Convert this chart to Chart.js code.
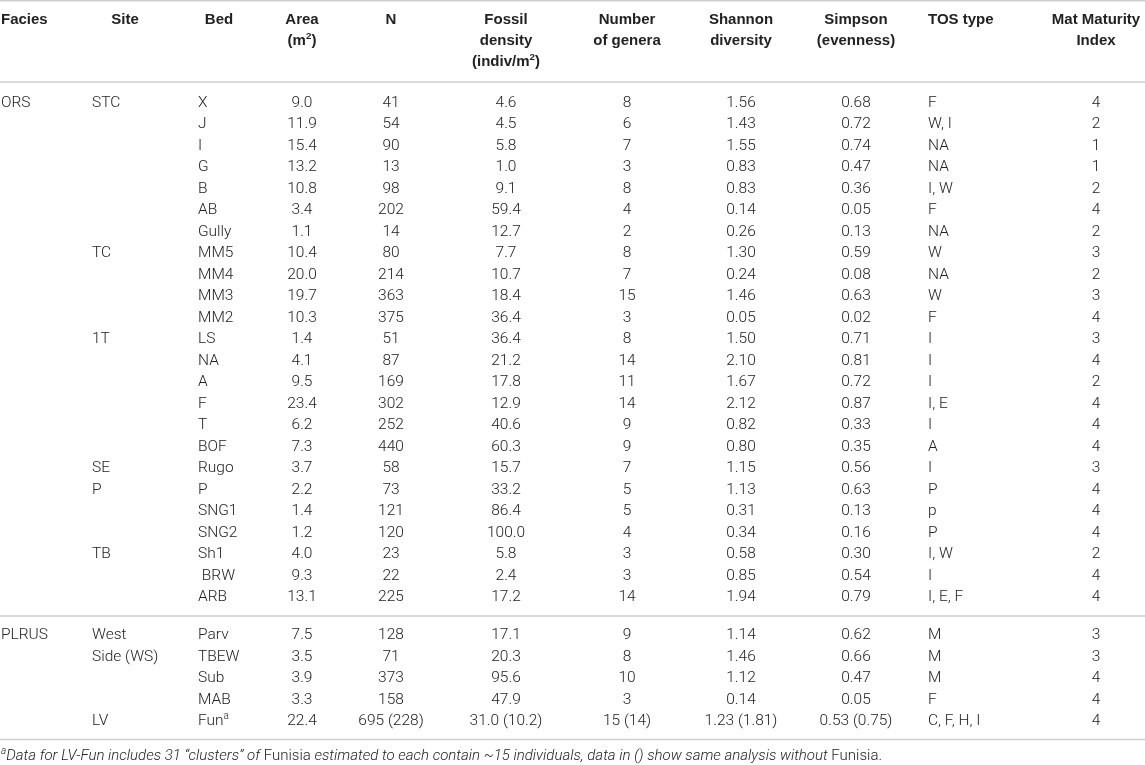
<!DOCTYPE html>
<html>
<head>
<meta charset="utf-8">
<script src="https://cdn.jsdelivr.net/npm/chart.js@4.4.1/dist/chart.umd.min.js"></script>
<style>
    html, body { margin: 0; padding: 0; background: #fff; }
    #wrap { width: 1145px; height: 765px; }
</style>
</head>
<body>
<div id="wrap"><canvas id="table" width="1145" height="765"></canvas></div>
<script>
// TABLE DATA (one array per column, "^" marks a superscript character)
const headers = [
    ["Facies"], ["Site"], ["Bed"], ["Area", "(m^2)"], ["N"],
    ["Fossil", "density", "(indiv/m^2)"], ["Number", "of genera"],
    ["Shannon", "diversity"], ["Simpson", "(evenness)"], ["TOS type"],
    ["Mat Maturity", "Index"]
];
const facies = ["ORS", "", "", "", "", "", "", "", "", "", "", "", "", "", "", "", "", "", "", "", "", "", "", "",
    "PLRUS", "", "", "", ""];
const sites = ["STC", "", "", "", "", "", "", "TC", "", "", "", "1T", "", "", "", "", "", "SE", "P", "", "", "TB", "", "",
    "West", "Side (WS)", "", "", "LV"];
const beds = ["X", "J", "I", "G", "B", "AB", "Gully", "MM5", "MM4", "MM3", "MM2", "LS", "NA", "A", "F", "T", "BOF",
    "Rugo", "P", "SNG1", "SNG2", "Sh1", " BRW", "ARB", "Parv", "TBEW", "Sub", "MAB", "Fun^a"];
const area = ["9.0", "11.9", "15.4", "13.2", "10.8", "3.4", "1.1", "10.4", "20.0", "19.7", "10.3", "1.4", "4.1", "9.5",
    "23.4", "6.2", "7.3", "3.7", "2.2", "1.4", "1.2", "4.0", "9.3", "13.1", "7.5", "3.5", "3.9", "3.3", "22.4"];
const counts = ["41", "54", "90", "13", "98", "202", "14", "80", "214", "363", "375", "51", "87", "169", "302", "252",
    "440", "58", "73", "121", "120", "23", "22", "225", "128", "71", "373", "158", "695 (228)"];
const density = ["4.6", "4.5", "5.8", "1.0", "9.1", "59.4", "12.7", "7.7", "10.7", "18.4", "36.4", "36.4", "21.2",
    "17.8", "12.9", "40.6", "60.3", "15.7", "33.2", "86.4", "100.0", "5.8", "2.4", "17.2", "17.1", "20.3", "95.6",
    "47.9", "31.0 (10.2)"];
const genera = ["8", "6", "7", "3", "8", "4", "2", "8", "7", "15", "3", "8", "14", "11", "14", "9", "9", "7", "5", "5",
    "4", "3", "3", "14", "9", "8", "10", "3", "15 (14)"];
const shannon = ["1.56", "1.43", "1.55", "0.83", "0.83", "0.14", "0.26", "1.30", "0.24", "1.46", "0.05", "1.50",
    "2.10", "1.67", "2.12", "0.82", "0.80", "1.15", "1.13", "0.31", "0.34", "0.58", "0.85", "1.94", "1.14", "1.46",
    "1.12", "0.14", "1.23 (1.81)"];
const simpson = ["0.68", "0.72", "0.74", "0.47", "0.36", "0.05", "0.13", "0.59", "0.08", "0.63", "0.02", "0.71",
    "0.81", "0.72", "0.87", "0.33", "0.35", "0.56", "0.63", "0.13", "0.16", "0.30", "0.54", "0.79", "0.62", "0.66",
    "0.47", "0.05", "0.53 (0.75)"];
const tosType = ["F", "W, I", "NA", "NA", "I, W", "F", "NA", "W", "NA", "W", "F", "I", "I", "I", "I, E", "I", "A", "I",
    "P", "p", "P", "I, W", "I", "I, E, F", "M", "M", "M", "F", "C, F, H, I"];
const maturity = ["4", "2", "1", "1", "2", "4", "2", "3", "2", "3", "4", "3", "4", "2", "4", "4", "4", "3", "4", "4",
    "4", "2", "4", "4", "3", "3", "4", "4", "4"];
const footnote = [
    { t: "a", sup: true, italic: true },
    { t: "Data for LV-Fun includes 31 \u201cclusters\u201d of ", italic: true },
    { t: "Funisia", italic: false },
    { t: " estimated to each contain ~15 individuals, data in () show same analysis without ", italic: true },
    { t: "Funisia.", italic: false }
];

const columns = [facies, sites, beds, area, counts, density, genera, shannon, simpson, tosType, maturity];
const orsRows = 24; // rows before the PLRUS block

// LAYOUT
const W = 1145, H = 765;
const TOP = 103, ROW_H = 21.5, GAP = 0.77;
const colX = [1, 92, 198, 302, 391, 506, 627, 741, 856, 928, 1096];
const colAlign = ["left", "left", "left", "center", "center", "center", "center", "center", "center", "left", "center"];
const headX = [1, 125, 219, 302, 391, 506, 627, 741, 856, 928, 1096];
const headAlign = ["left", "center", "center", "center", "center", "center", "center", "center", "center", "left", "center"];
const headY = [20, 41, 62];
const rules = [0.75, 82, 616, 739.5];
const FOOT_Y = 756;
const BODY_SIZE = 15.5, HEAD_SIZE = 15, FOOT_SIZE = 15;

const BODY_FONT = '"Roboto", "Liberation Sans", sans-serif';
const HEAD_FONT = '"Liberation Sans", Arial, sans-serif';
const textColor = "#222";

function rowPos(i) {
    return i < orsRows ? i : i + GAP;
}

// draw a string where "^c" is a raised small character
function richText(ctx, str, x, y, align, font, size) {
    const parts = [];
    for (let i = 0; i < str.length; i++) {
        if (str[i] === "^" && i + 1 < str.length) {
            parts.push({ t: str[i + 1], sup: true });
            i++;
        } else if (parts.length && !parts[parts.length - 1].sup) {
            parts[parts.length - 1].t += str[i];
        } else {
            parts.push({ t: str[i], sup: false });
        }
    }
    drawParts(ctx, parts, x, y, align, p => font(p.sup ? size * 0.65 : size));
}

function drawParts(ctx, parts, x, y, align, fontFor) {
    let total = 0;
    parts.forEach(p => { ctx.font = fontFor(p); p.w = ctx.measureText(p.t).width; total += p.w; });
    let cx = align === "center" ? x - total / 2 : align === "right" ? x - total : x;
    ctx.textAlign = "left";
    ctx.textBaseline = "middle";
    parts.forEach(p => {
        ctx.font = fontFor(p);
        ctx.fillText(p.t, cx, p.sup ? y - 5 : y);
        cx += p.w;
    });
}

const tablePlugin = {
    id: "tableText",
    afterDatasetsDraw(chart) {
        const ctx = chart.ctx;
        ctx.save();
        ctx.fillStyle = textColor;

        // rules
        ctx.strokeStyle = "#cfcfcf";
        ctx.lineWidth = 1.5;
        rules.forEach(y => {
            ctx.beginPath();
            ctx.moveTo(0, y);
            ctx.lineTo(W, y);
            ctx.stroke();
        });

        // column headers
        headers.forEach((lines, c) => {
            lines.forEach((line, k) => {
                richText(ctx, line, headX[c], headY[k], headAlign[c],
                    s => "bold " + s + "px " + HEAD_FONT, HEAD_SIZE);
            });
        });

        // cells, positioned by the chart scales
        chart.data.datasets.forEach((ds, c) => {
            const meta = chart.getDatasetMeta(c);
            meta.data.forEach((pt, j) => {
                const txt = ds.labels[j];
                if (!txt) return;
                richText(ctx, txt, pt.x, pt.y, colAlign[c],
                    s => "300 " + s + "px " + BODY_FONT, BODY_SIZE);
            });
        });

        // footnote
        drawParts(ctx, footnote, 1, FOOT_Y, "left", p =>
            (p.italic ? "italic " : "") + "300 " + (p.sup ? 10 : FOOT_SIZE) + "px " + BODY_FONT);
        ctx.restore();
    }
};

const datasets = columns.map((vals, c) => ({
    labels: vals,
    data: vals.map((v, i) => ({ x: colX[c], y: rowPos(i) })),
    pointRadius: 0,
    showLine: false
}));

new Chart(document.getElementById("table"), {
    type: "scatter",
    data: { datasets },
    options: {
        responsive: false,
        animation: false,
        events: [],
        layout: { padding: 0 },
        plugins: { legend: { display: false }, tooltip: { enabled: false } },
        scales: {
            x: { type: "linear", display: false, min: 0, max: W },
            y: { type: "linear", display: false, reverse: true, min: -TOP / ROW_H, max: (H - TOP) / ROW_H }
        }
    },
    plugins: [tablePlugin]
});
</script>
</body>
</html>
